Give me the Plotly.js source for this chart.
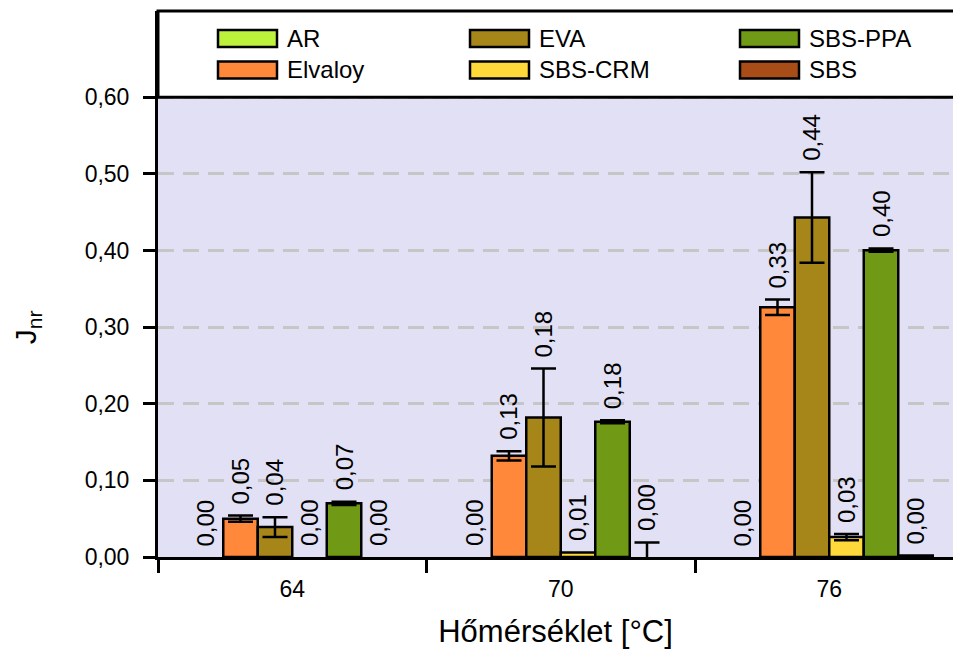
<!DOCTYPE html>
<html>
<head>
<meta charset="utf-8">
<script src="https://cdn.plot.ly/plotly-3.0.1.min.js"></script>
<style>
  html, body { margin: 0; padding: 0; background: #ffffff; }
  #chart { width: 953px; height: 651px; }
</style>
</head>
<body>
<div id="chart"></div>
<script>
// Test temperatures (°C)
const temperatures = ['64', '70', '76'];

// Binder series, in group order
const seriesNames = ['AR', 'Elvaloy', 'EVA', 'SBS-CRM', 'SBS-PPA', 'SBS'];
const seriesColors = ['#bdf23c', '#ff883a', '#a68618', '#ffd83a', '#709a16', '#a84c18'];

// Non-recoverable creep compliance J_nr and its spread
const jnrAR      = [0.000, 0.000, 0.000];
const jnrElvaloy = [0.050, 0.132, 0.326];
const jnrEVA     = [0.039, 0.182, 0.443];
const jnrSBSCRM  = [0.000, 0.006, 0.026];
const jnrSBSPPA  = [0.070, 0.1765, 0.4005];
const jnrSBS     = [0.000, 0.000, 0.002];

const errAR      = [0.000, 0.000, 0.000];
const errElvaloy = [0.004, 0.006, 0.010];
const errEVA     = [0.013, 0.064, 0.059];
const errSBSCRM  = [0.000, 0.000, 0.004];
const errSBSPPA  = [0.002, 0.002, 0.002];
const errSBS     = [0.000, 0.019, 0.000];

// Y axis ticks
const yTicks = [0, 0.1, 0.2, 0.3, 0.4, 0.5, 0.6];

const values = [jnrAR, jnrElvaloy, jnrEVA, jnrSBSCRM, jnrSBSPPA, jnrSBS];
const errors = [errAR, errElvaloy, errEVA, errSBSCRM, errSBSPPA, errSBS];

// Layout geometry
const W = 953, H = 651;
const M = { l: 158, r: 0, t: 11, b: 94 };
const plotW = W - M.l - M.r;
const plotH = H - M.t - M.b;
const yTop = 0.7126;          // axis extends above the data zone to host the key
const dataTop = 0.6;          // shaded data zone ends here
const bargap = 0.229;
const nSeries = seriesNames.length;
const barW = (1 - bargap) / nSeries;
const FONT = '"Liberation Sans", Arial, Helvetica, sans-serif';

const fmt = v => v.toFixed(2).replace('.', ',');
const pxX = px => (px - M.l) / plotW;
const pxY = py => (H - M.b - py) / plotH;

// Bars: zero-height bars get no outline, zero spreads get no error bar
const traces = seriesNames.map((name, i) => ({
  type: 'bar',
  name: name,
  x: temperatures,
  y: values[i],
  marker: {
    color: seriesColors[i],
    line: { color: '#000000', width: values[i].map(v => (v > 0 ? 2.5 : 0)) }
  },
  error_y: {
    type: 'data',
    array: errors[i].map(e => (e > 0 ? e : NaN)),
    visible: true, color: '#000000', thickness: 2.5, width: 12.5
  },
  showlegend: false,
  hoverinfo: 'skip'
}));

// Value labels above each bar (and its error bar)
const annotations = [];
seriesNames.forEach((name, i) => {
  temperatures.forEach((t, j) => {
    const v = values[i][j];
    annotations.push({
      xref: 'x', yref: 'y',
      x: j + (i - (nSeries - 1) / 2) * barW,
      y: v + errors[i][j],
      text: fmt(v),
      textangle: -90,
      showarrow: false,
      xanchor: 'center', yanchor: 'bottom',
      yshift: 9,
      font: { family: FONT, size: 24, color: '#000000' }
    });
  });
});

// Y axis title, centred on the shaded zone
annotations.push({
  xref: 'paper', yref: 'y',
  x: 0, y: dataTop / 2,
  xshift: -131,
  text: 'J<sub>nr</sub>',
  textangle: -90,
  showarrow: false,
  xanchor: 'center', yanchor: 'middle',
  font: { family: FONT, size: 30, color: '#000000' }
});

// Key: two rows, three columns, filled column by column
const shapes = [];
shapes.push({
  type: 'rect', xref: 'paper', yref: 'y', layer: 'below',
  x0: 0, x1: 1, y0: 0, y1: dataTop,
  fillcolor: '#e2e0f4', line: { width: 0 }
});
shapes.push({
  type: 'rect', xref: 'paper', yref: 'paper', layer: 'above',
  x0: 0, x1: 1.2, y0: dataTop / yTop, y1: 1,
  fillcolor: 'rgba(255,255,255,0)', line: { color: '#000000', width: 3 }
});

const keyCols = [218, 470, 740];
const keyRows = [38.5, 70];
const swW = 59, swH = 17;
seriesNames.forEach((name, i) => {
  const col = Math.floor(i / 2), row = i % 2;
  const x0 = keyCols[col], yc = keyRows[row];
  shapes.push({
    type: 'rect', xref: 'paper', yref: 'paper', layer: 'above',
    x0: pxX(x0), x1: pxX(x0 + swW),
    y0: pxY(yc + swH / 2), y1: pxY(yc - swH / 2),
    fillcolor: seriesColors[i], line: { color: '#000000', width: 2.5 }
  });
  annotations.push({
    xref: 'paper', yref: 'paper',
    x: pxX(x0 + swW + 8), y: pxY(yc),
    text: name, showarrow: false,
    xanchor: 'left', yanchor: 'middle',
    font: { family: FONT, size: 24, color: '#000000' }
  });
});

const layout = {
  width: W, height: H,
  margin: M,
  paper_bgcolor: '#ffffff',
  plot_bgcolor: '#ffffff',
  separators: ', ',
  barmode: 'group',
  bargap: bargap,
  bargroupgap: 0,
  showlegend: false,
  font: { family: FONT, size: 22, color: '#000000' },
  xaxis: {
    type: 'category',
    categoryorder: 'array',
    categoryarray: temperatures,
    range: [-0.5, -0.5 + plotW / 268.5],
    showline: true, linecolor: '#000000', linewidth: 3,
    ticks: 'outside', tickson: 'boundaries', ticklen: 13, tickwidth: 3, tickcolor: '#000000',
    ticklabelstandoff: 9,
    showgrid: false, zeroline: false,
    tickfont: { family: FONT, size: 23, color: '#000000' },
    title: { text: 'Hőmérséklet [°C]', font: { family: FONT, size: 31, color: '#000000' }, standoff: 20 },
    automargin: false
  },
  yaxis: {
    range: [0, yTop],
    tickvals: yTicks,
    tickformat: '.2f',
    showline: true, linecolor: '#000000', linewidth: 3,
    ticks: 'outside', ticklen: 12, tickwidth: 3, tickcolor: '#000000',
    ticklabelstandoff: 9,
    showgrid: true, gridcolor: '#c6c6c6', gridwidth: 3, griddash: '16px,9px',
    zeroline: false,
    tickfont: { family: FONT, size: 23, color: '#000000' },
    automargin: false
  },
  shapes: shapes,
  annotations: annotations
};

Plotly.newPlot('chart', traces, layout, { staticPlot: true, displayModeBar: false });
</script>
</body>
</html>
